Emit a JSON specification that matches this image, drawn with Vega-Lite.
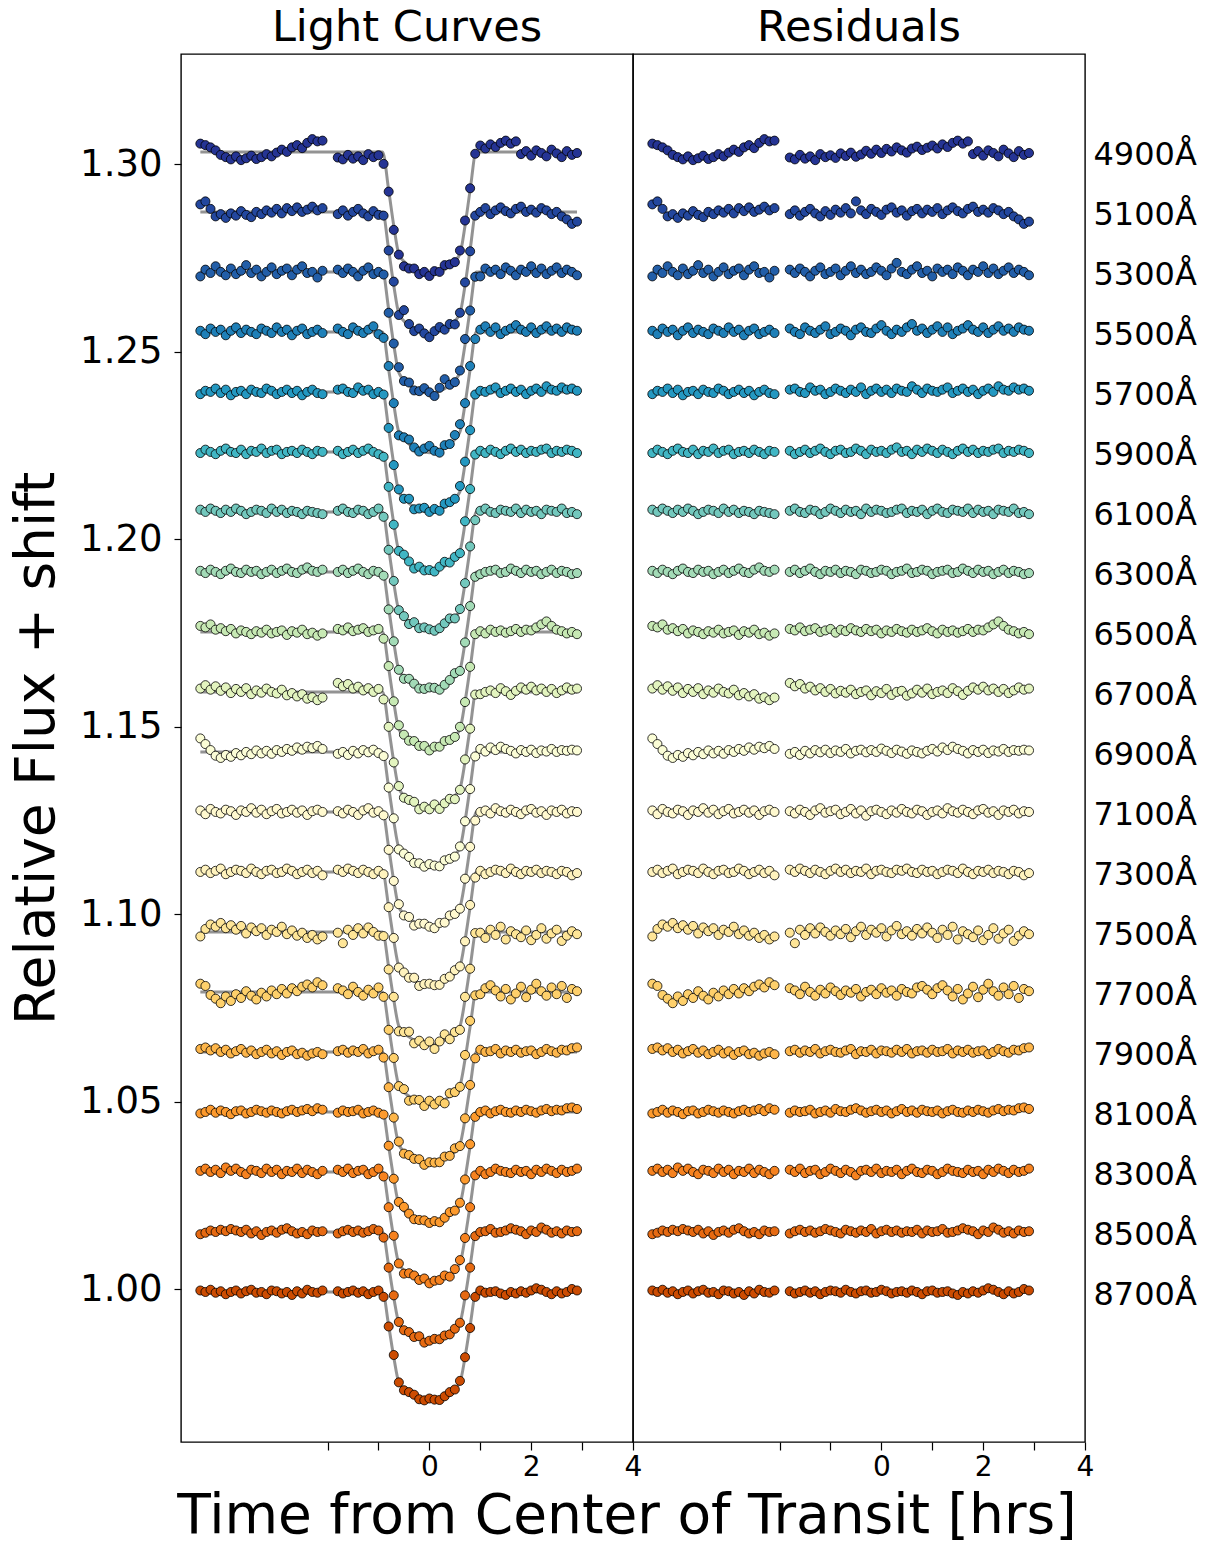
{
  "$schema": "https://vega.github.io/schema/vega-lite/v6.json",
  "background": "white",
  "padding": {"left": 8, "right": 4, "top": 6, "bottom": 8},
  "spacing": 0,
  "bounds": "flush",
  "title": {"text": "Time from Center of Transit [hrs]", "orient": "bottom", "anchor": "middle", "fontSize": 55, "offset": 8, "dx": 24},
  "data": {
    "format": {"type": "csv", "parse": {"w": "string", "t": "number", "f": "number", "r": "number"}},
    "values": "w,t,f,r\n4900,-4.5,1.3055,1.3055\n4900,-4.4,1.3051,1.3051\n4900,-4.3,1.3045,1.3045\n4900,-4.2,1.3037,1.3037\n4900,-4.1,1.3025,1.3025\n4900,-4,1.3019,1.3019\n4900,-3.9,1.3013,1.3013\n4900,-3.8,1.3021,1.3021\n4900,-3.7,1.3011,1.3011\n4900,-3.6,1.3016,1.3016\n4900,-3.5,1.3023,1.3023\n4900,-3.4,1.3014,1.3014\n4900,-3.3,1.3019,1.3019\n4900,-3.2,1.3027,1.3027\n4900,-3.1,1.3021,1.3021\n4900,-3,1.3031,1.3031\n4900,-2.9,1.3039,1.3039\n4900,-2.8,1.3033,1.3033\n4900,-2.7,1.3045,1.3045\n4900,-2.6,1.3051,1.3051\n4900,-2.5,1.3043,1.3043\n4900,-2.4,1.3057,1.3057\n4900,-2.3,1.3067,1.3067\n4900,-2.2,1.3061,1.3061\n4900,-2.1,1.3063,1.3063\n4900,-1.8,1.3018,1.3018\n4900,-1.7,1.3013,1.3013\n4900,-1.6,1.3025,1.3025\n4900,-1.5,1.3015,1.3015\n4900,-1.4,1.3021,1.3021\n4900,-1.3,1.3011,1.3011\n4900,-1.2,1.3027,1.3027\n4900,-1.1,1.3019,1.3019\n4900,-1,1.3024,1.3024\n4900,-0.9,1.3001,1.3017\n4900,-0.8,1.2927,1.3029\n4900,-0.7,1.2825,1.3022\n4900,-0.6,1.2759,1.3031\n4900,-0.5,1.2728,1.3020\n4900,-0.4,1.2722,1.3026\n4900,-0.3,1.2722,1.3036\n4900,-0.2,1.2707,1.3028\n4900,-0.1,1.2713,1.3039\n4900,0,1.2702,1.3030\n4900,0.1,1.2715,1.3041\n4900,0.2,1.2713,1.3034\n4900,0.3,1.2731,1.3045\n4900,0.4,1.2733,1.3037\n4900,0.5,1.2739,1.3031\n4900,0.6,1.2770,1.3042\n4900,0.7,1.2850,1.3047\n4900,0.8,1.2936,1.3038\n4900,0.9,1.3028,1.3044\n4900,1,1.3050,1.3050\n4900,1.1,1.3042,1.3042\n4900,1.2,1.3053,1.3053\n4900,1.3,1.3046,1.3046\n4900,1.4,1.3057,1.3057\n4900,1.5,1.3063,1.3063\n4900,1.6,1.3055,1.3055\n4900,1.7,1.3061,1.3061\n4900,1.8,1.3027,1.3027\n4900,1.9,1.3035,1.3035\n4900,2,1.3023,1.3023\n4900,2.1,1.3037,1.3037\n4900,2.2,1.3030,1.3030\n4900,2.3,1.3021,1.3021\n4900,2.4,1.3039,1.3039\n4900,2.5,1.3029,1.3029\n4900,2.6,1.3019,1.3019\n4900,2.7,1.3035,1.3035\n4900,2.8,1.3025,1.3025\n4900,2.9,1.3030,1.3030\n5100,-4.5,1.2893,1.2893\n5100,-4.4,1.2901,1.2901\n5100,-4.3,1.2881,1.2881\n5100,-4.2,1.2861,1.2861\n5100,-4.1,1.2867,1.2867\n5100,-4,1.2857,1.2857\n5100,-3.9,1.2869,1.2869\n5100,-3.8,1.2863,1.2863\n5100,-3.7,1.2875,1.2875\n5100,-3.6,1.2865,1.2865\n5100,-3.5,1.2859,1.2859\n5100,-3.4,1.2873,1.2873\n5100,-3.3,1.2867,1.2867\n5100,-3.2,1.2877,1.2877\n5100,-3.1,1.2871,1.2871\n5100,-3,1.2881,1.2881\n5100,-2.9,1.2869,1.2869\n5100,-2.8,1.2883,1.2883\n5100,-2.7,1.2875,1.2875\n5100,-2.6,1.2885,1.2885\n5100,-2.5,1.2873,1.2873\n5100,-2.4,1.2879,1.2879\n5100,-2.3,1.2887,1.2887\n5100,-2.2,1.2877,1.2877\n5100,-2.1,1.2883,1.2883\n5100,-1.8,1.2867,1.2867\n5100,-1.7,1.2877,1.2877\n5100,-1.6,1.2863,1.2863\n5100,-1.5,1.2873,1.2873\n5100,-1.4,1.2881,1.2881\n5100,-1.3,1.2869,1.2869\n5100,-1.2,1.2861,1.2861\n5100,-1.1,1.2875,1.2875\n5100,-1,1.2865,1.2865\n5100,-0.9,1.2863,1.2879\n5100,-0.8,1.2770,1.2871\n5100,-0.7,1.2687,1.2883\n5100,-0.6,1.2598,1.2869\n5100,-0.5,1.2611,1.2901\n5100,-0.4,1.2574,1.2877\n5100,-0.3,1.2555,1.2867\n5100,-0.2,1.2562,1.2881\n5100,-0.1,1.2549,1.2873\n5100,0,1.2539,1.2865\n5100,0.1,1.2555,1.2879\n5100,0.2,1.2566,1.2885\n5100,0.3,1.2559,1.2871\n5100,0.4,1.2574,1.2877\n5100,0.5,1.2573,1.2863\n5100,0.6,1.2604,1.2875\n5100,0.7,1.2685,1.2881\n5100,0.8,1.2768,1.2869\n5100,0.9,1.2863,1.2879\n5100,1,1.2873,1.2873\n5100,1.1,1.2883,1.2883\n5100,1.2,1.2867,1.2867\n5100,1.3,1.2877,1.2877\n5100,1.4,1.2885,1.2885\n5100,1.5,1.2875,1.2875\n5100,1.6,1.2869,1.2869\n5100,1.7,1.2881,1.2881\n5100,1.8,1.2887,1.2887\n5100,1.9,1.2873,1.2873\n5100,2,1.2879,1.2879\n5100,2.1,1.2871,1.2871\n5100,2.2,1.2883,1.2883\n5100,2.3,1.2877,1.2877\n5100,2.4,1.2867,1.2867\n5100,2.5,1.2873,1.2873\n5100,2.6,1.2861,1.2861\n5100,2.7,1.2853,1.2853\n5100,2.8,1.2841,1.2841\n5100,2.9,1.2847,1.2847\n5300,-4.5,1.2701,1.2701\n5300,-4.4,1.2719,1.2719\n5300,-4.3,1.2710,1.2710\n5300,-4.2,1.2728,1.2728\n5300,-4.1,1.2713,1.2713\n5300,-4,1.2704,1.2704\n5300,-3.9,1.2722,1.2722\n5300,-3.8,1.2707,1.2707\n5300,-3.7,1.2716,1.2716\n5300,-3.6,1.2731,1.2731\n5300,-3.5,1.2710,1.2710\n5300,-3.4,1.2719,1.2719\n5300,-3.3,1.2701,1.2701\n5300,-3.2,1.2713,1.2713\n5300,-3.1,1.2725,1.2725\n5300,-3,1.2707,1.2707\n5300,-2.9,1.2716,1.2716\n5300,-2.8,1.2722,1.2722\n5300,-2.7,1.2704,1.2704\n5300,-2.6,1.2719,1.2719\n5300,-2.5,1.2728,1.2728\n5300,-2.4,1.2710,1.2710\n5300,-2.3,1.2713,1.2713\n5300,-2.2,1.2698,1.2698\n5300,-2.1,1.2716,1.2716\n5300,-1.8,1.2719,1.2719\n5300,-1.7,1.2710,1.2710\n5300,-1.6,1.2722,1.2722\n5300,-1.5,1.2713,1.2713\n5300,-1.4,1.2701,1.2701\n5300,-1.3,1.2716,1.2716\n5300,-1.2,1.2725,1.2725\n5300,-1.1,1.2707,1.2707\n5300,-1,1.2713,1.2713\n5300,-0.9,1.2706,1.2722\n5300,-0.8,1.2604,1.2704\n5300,-0.7,1.2522,1.2716\n5300,-0.6,1.2459,1.2728\n5300,-0.5,1.2422,1.2710\n5300,-0.4,1.2418,1.2719\n5300,-0.3,1.2397,1.2707\n5300,-0.2,1.2395,1.2713\n5300,-0.1,1.2403,1.2725\n5300,0,1.2392,1.2716\n5300,0.1,1.2382,1.2704\n5300,0.2,1.2404,1.2722\n5300,0.3,1.2427,1.2737\n5300,0.4,1.2412,1.2713\n5300,0.5,1.2419,1.2707\n5300,0.6,1.2450,1.2719\n5300,0.7,1.2534,1.2728\n5300,0.8,1.2610,1.2710\n5300,0.9,1.2700,1.2716\n5300,1,1.2701,1.2701\n5300,1.1,1.2722,1.2722\n5300,1.2,1.2713,1.2713\n5300,1.3,1.2719,1.2719\n5300,1.4,1.2707,1.2707\n5300,1.5,1.2725,1.2725\n5300,1.6,1.2716,1.2716\n5300,1.7,1.2704,1.2704\n5300,1.8,1.2719,1.2719\n5300,1.9,1.2713,1.2713\n5300,2,1.2728,1.2728\n5300,2.1,1.2710,1.2710\n5300,2.2,1.2722,1.2722\n5300,2.3,1.2707,1.2707\n5300,2.4,1.2716,1.2716\n5300,2.5,1.2725,1.2725\n5300,2.6,1.2710,1.2710\n5300,2.7,1.2719,1.2719\n5300,2.8,1.2713,1.2713\n5300,2.9,1.2704,1.2704\n5500,-4.5,1.2556,1.2556\n5500,-4.4,1.2547,1.2547\n5500,-4.3,1.2562,1.2562\n5500,-4.2,1.2553,1.2553\n5500,-4.1,1.2559,1.2559\n5500,-4,1.2544,1.2544\n5500,-3.9,1.2556,1.2556\n5500,-3.8,1.2565,1.2565\n5500,-3.7,1.2550,1.2550\n5500,-3.6,1.2559,1.2559\n5500,-3.5,1.2553,1.2553\n5500,-3.4,1.2547,1.2547\n5500,-3.3,1.2562,1.2562\n5500,-3.2,1.2556,1.2556\n5500,-3.1,1.2550,1.2550\n5500,-3,1.2565,1.2565\n5500,-2.9,1.2553,1.2553\n5500,-2.8,1.2559,1.2559\n5500,-2.7,1.2544,1.2544\n5500,-2.6,1.2556,1.2556\n5500,-2.5,1.2562,1.2562\n5500,-2.4,1.2547,1.2547\n5500,-2.3,1.2553,1.2553\n5500,-2.2,1.2559,1.2559\n5500,-2.1,1.2550,1.2550\n5500,-1.8,1.2562,1.2562\n5500,-1.7,1.2553,1.2553\n5500,-1.6,1.2547,1.2547\n5500,-1.5,1.2565,1.2565\n5500,-1.4,1.2556,1.2556\n5500,-1.3,1.2550,1.2550\n5500,-1.2,1.2559,1.2559\n5500,-1.1,1.2568,1.2568\n5500,-1,1.2547,1.2547\n5500,-0.9,1.2537,1.2553\n5500,-0.8,1.2462,1.2562\n5500,-0.7,1.2363,1.2556\n5500,-0.6,1.2277,1.2544\n5500,-0.5,1.2272,1.2559\n5500,-0.4,1.2266,1.2565\n5500,-0.3,1.2245,1.2553\n5500,-0.2,1.2234,1.2550\n5500,-0.1,1.2242,1.2562\n5500,0,1.2249,1.2571\n5500,0.1,1.2236,1.2556\n5500,0.2,1.2231,1.2547\n5500,0.3,1.2251,1.2559\n5500,0.4,1.2254,1.2553\n5500,0.5,1.2278,1.2565\n5500,0.6,1.2307,1.2574\n5500,0.7,1.2363,1.2556\n5500,0.8,1.2462,1.2562\n5500,0.9,1.2534,1.2550\n5500,1,1.2559,1.2559\n5500,1.1,1.2568,1.2568\n5500,1.2,1.2553,1.2553\n5500,1.3,1.2565,1.2565\n5500,1.4,1.2547,1.2547\n5500,1.5,1.2556,1.2556\n5500,1.6,1.2562,1.2562\n5500,1.7,1.2571,1.2571\n5500,1.8,1.2559,1.2559\n5500,1.9,1.2553,1.2553\n5500,2,1.2565,1.2565\n5500,2.1,1.2550,1.2550\n5500,2.2,1.2559,1.2559\n5500,2.3,1.2568,1.2568\n5500,2.4,1.2556,1.2556\n5500,2.5,1.2562,1.2562\n5500,2.6,1.2553,1.2553\n5500,2.7,1.2565,1.2565\n5500,2.8,1.2559,1.2559\n5500,2.9,1.2556,1.2556\n5700,-4.5,1.2387,1.2387\n5700,-4.4,1.2396,1.2396\n5700,-4.3,1.2393,1.2393\n5700,-4.2,1.2402,1.2402\n5700,-4.1,1.2390,1.2390\n5700,-4,1.2399,1.2399\n5700,-3.9,1.2384,1.2384\n5700,-3.8,1.2393,1.2393\n5700,-3.7,1.2396,1.2396\n5700,-3.6,1.2387,1.2387\n5700,-3.5,1.2399,1.2399\n5700,-3.4,1.2393,1.2393\n5700,-3.3,1.2390,1.2390\n5700,-3.2,1.2402,1.2402\n5700,-3.1,1.2396,1.2396\n5700,-3,1.2387,1.2387\n5700,-2.9,1.2393,1.2393\n5700,-2.8,1.2399,1.2399\n5700,-2.7,1.2390,1.2390\n5700,-2.6,1.2396,1.2396\n5700,-2.5,1.2384,1.2384\n5700,-2.4,1.2393,1.2393\n5700,-2.3,1.2399,1.2399\n5700,-2.2,1.2390,1.2390\n5700,-2.1,1.2387,1.2387\n5700,-1.8,1.2399,1.2399\n5700,-1.7,1.2402,1.2402\n5700,-1.6,1.2393,1.2393\n5700,-1.5,1.2390,1.2390\n5700,-1.4,1.2405,1.2405\n5700,-1.3,1.2396,1.2396\n5700,-1.2,1.2399,1.2399\n5700,-1.1,1.2387,1.2387\n5700,-1,1.2393,1.2393\n5700,-0.9,1.2386,1.2402\n5700,-0.8,1.2297,1.2396\n5700,-0.7,1.2198,1.2390\n5700,-0.6,1.2133,1.2399\n5700,-0.5,1.2108,1.2393\n5700,-0.4,1.2108,1.2405\n5700,-0.3,1.2080,1.2387\n5700,-0.2,1.2082,1.2396\n5700,-0.1,1.2084,1.2402\n5700,0,1.2073,1.2393\n5700,0.1,1.2081,1.2399\n5700,0.2,1.2076,1.2390\n5700,0.3,1.2095,1.2402\n5700,0.4,1.2099,1.2396\n5700,0.5,1.2108,1.2393\n5700,0.6,1.2142,1.2408\n5700,0.7,1.2207,1.2399\n5700,0.8,1.2291,1.2390\n5700,0.9,1.2386,1.2402\n5700,1,1.2396,1.2396\n5700,1.1,1.2393,1.2393\n5700,1.2,1.2399,1.2399\n5700,1.3,1.2405,1.2405\n5700,1.4,1.2390,1.2390\n5700,1.5,1.2396,1.2396\n5700,1.6,1.2402,1.2402\n5700,1.7,1.2393,1.2393\n5700,1.8,1.2399,1.2399\n5700,1.9,1.2387,1.2387\n5700,2,1.2396,1.2396\n5700,2.1,1.2402,1.2402\n5700,2.2,1.2393,1.2393\n5700,2.3,1.2408,1.2408\n5700,2.4,1.2399,1.2399\n5700,2.5,1.2396,1.2396\n5700,2.6,1.2405,1.2405\n5700,2.7,1.2399,1.2399\n5700,2.8,1.2402,1.2402\n5700,2.9,1.2396,1.2396\n5900,-4.5,1.2230,1.2230\n5900,-4.4,1.2239,1.2239\n5900,-4.3,1.2233,1.2233\n5900,-4.2,1.2227,1.2227\n5900,-4.1,1.2236,1.2236\n5900,-4,1.2242,1.2242\n5900,-3.9,1.2233,1.2233\n5900,-3.8,1.2230,1.2230\n5900,-3.7,1.2239,1.2239\n5900,-3.6,1.2227,1.2227\n5900,-3.5,1.2236,1.2236\n5900,-3.4,1.2233,1.2233\n5900,-3.3,1.2242,1.2242\n5900,-3.2,1.2230,1.2230\n5900,-3.1,1.2236,1.2236\n5900,-3,1.2239,1.2239\n5900,-2.9,1.2227,1.2227\n5900,-2.8,1.2233,1.2233\n5900,-2.7,1.2236,1.2236\n5900,-2.6,1.2230,1.2230\n5900,-2.5,1.2239,1.2239\n5900,-2.4,1.2233,1.2233\n5900,-2.3,1.2227,1.2227\n5900,-2.2,1.2236,1.2236\n5900,-2.1,1.2233,1.2233\n5900,-1.8,1.2236,1.2236\n5900,-1.7,1.2227,1.2227\n5900,-1.6,1.2233,1.2233\n5900,-1.5,1.2239,1.2239\n5900,-1.4,1.2230,1.2230\n5900,-1.3,1.2236,1.2236\n5900,-1.2,1.2242,1.2242\n5900,-1.1,1.2233,1.2233\n5900,-1,1.2227,1.2227\n5900,-0.9,1.2220,1.2236\n5900,-0.8,1.2140,1.2239\n5900,-0.7,1.2039,1.2230\n5900,-0.6,1.1969,1.2233\n5900,-0.5,1.1959,1.2242\n5900,-0.4,1.1941,1.2236\n5900,-0.3,1.1922,1.2227\n5900,-0.2,1.1927,1.2239\n5900,-0.1,1.1917,1.2233\n5900,0,1.1918,1.2236\n5900,0.1,1.1914,1.2230\n5900,0.2,1.1927,1.2239\n5900,0.3,1.1940,1.2245\n5900,0.4,1.1938,1.2233\n5900,0.5,1.1953,1.2236\n5900,0.6,1.1963,1.2227\n5900,0.7,1.2048,1.2239\n5900,0.8,1.2134,1.2233\n5900,0.9,1.2226,1.2242\n5900,1,1.2236,1.2236\n5900,1.1,1.2230,1.2230\n5900,1.2,1.2239,1.2239\n5900,1.3,1.2233,1.2233\n5900,1.4,1.2227,1.2227\n5900,1.5,1.2236,1.2236\n5900,1.6,1.2242,1.2242\n5900,1.7,1.2233,1.2233\n5900,1.8,1.2239,1.2239\n5900,1.9,1.2230,1.2230\n5900,2,1.2236,1.2236\n5900,2.1,1.2233,1.2233\n5900,2.2,1.2239,1.2239\n5900,2.3,1.2242,1.2242\n5900,2.4,1.2230,1.2230\n5900,2.5,1.2236,1.2236\n5900,2.6,1.2233,1.2233\n5900,2.7,1.2239,1.2239\n5900,2.8,1.2236,1.2236\n5900,2.9,1.2230,1.2230\n6100,-4.5,1.2079,1.2079\n6100,-4.4,1.2073,1.2073\n6100,-4.3,1.2082,1.2082\n6100,-4.2,1.2076,1.2076\n6100,-4.1,1.2070,1.2070\n6100,-4,1.2079,1.2079\n6100,-3.9,1.2073,1.2073\n6100,-3.8,1.2082,1.2082\n6100,-3.7,1.2076,1.2076\n6100,-3.6,1.2067,1.2067\n6100,-3.5,1.2073,1.2073\n6100,-3.4,1.2079,1.2079\n6100,-3.3,1.2076,1.2076\n6100,-3.2,1.2070,1.2070\n6100,-3.1,1.2082,1.2082\n6100,-3,1.2073,1.2073\n6100,-2.9,1.2079,1.2079\n6100,-2.8,1.2070,1.2070\n6100,-2.7,1.2076,1.2076\n6100,-2.6,1.2073,1.2073\n6100,-2.5,1.2067,1.2067\n6100,-2.4,1.2076,1.2076\n6100,-2.3,1.2073,1.2073\n6100,-2.2,1.2070,1.2070\n6100,-2.1,1.2067,1.2067\n6100,-1.8,1.2076,1.2076\n6100,-1.7,1.2082,1.2082\n6100,-1.6,1.2073,1.2073\n6100,-1.5,1.2070,1.2070\n6100,-1.4,1.2079,1.2079\n6100,-1.3,1.2076,1.2076\n6100,-1.2,1.2067,1.2067\n6100,-1.1,1.2073,1.2073\n6100,-1,1.2082,1.2082\n6100,-0.9,1.2060,1.2076\n6100,-0.8,1.1972,1.2070\n6100,-0.7,1.1889,1.2079\n6100,-0.6,1.1811,1.2073\n6100,-0.5,1.1795,1.2076\n6100,-0.4,1.1774,1.2067\n6100,-0.3,1.1779,1.2082\n6100,-0.2,1.1763,1.2073\n6100,-0.1,1.1765,1.2079\n6100,0,1.1760,1.2076\n6100,0.1,1.1756,1.2070\n6100,0.2,1.1763,1.2073\n6100,0.3,1.1776,1.2079\n6100,0.4,1.1789,1.2082\n6100,0.5,1.1789,1.2070\n6100,0.6,1.1814,1.2076\n6100,0.7,1.1883,1.2073\n6100,0.8,1.1981,1.2079\n6100,0.9,1.2051,1.2067\n6100,1,1.2076,1.2076\n6100,1.1,1.2082,1.2082\n6100,1.2,1.2073,1.2073\n6100,1.3,1.2070,1.2070\n6100,1.4,1.2079,1.2079\n6100,1.5,1.2076,1.2076\n6100,1.6,1.2073,1.2073\n6100,1.7,1.2082,1.2082\n6100,1.8,1.2070,1.2070\n6100,1.9,1.2079,1.2079\n6100,2,1.2073,1.2073\n6100,2.1,1.2076,1.2076\n6100,2.2,1.2067,1.2067\n6100,2.3,1.2079,1.2079\n6100,2.4,1.2076,1.2076\n6100,2.5,1.2073,1.2073\n6100,2.6,1.2082,1.2082\n6100,2.7,1.2070,1.2070\n6100,2.8,1.2073,1.2073\n6100,2.9,1.2067,1.2067\n6300,-4.5,1.1916,1.1916\n6300,-4.4,1.1910,1.1910\n6300,-4.3,1.1919,1.1919\n6300,-4.2,1.1913,1.1913\n6300,-4.1,1.1907,1.1907\n6300,-4,1.1916,1.1916\n6300,-3.9,1.1922,1.1922\n6300,-3.8,1.1913,1.1913\n6300,-3.7,1.1910,1.1910\n6300,-3.6,1.1919,1.1919\n6300,-3.5,1.1913,1.1913\n6300,-3.4,1.1916,1.1916\n6300,-3.3,1.1907,1.1907\n6300,-3.2,1.1913,1.1913\n6300,-3.1,1.1919,1.1919\n6300,-3,1.1910,1.1910\n6300,-2.9,1.1916,1.1916\n6300,-2.8,1.1922,1.1922\n6300,-2.7,1.1913,1.1913\n6300,-2.6,1.1910,1.1910\n6300,-2.5,1.1919,1.1919\n6300,-2.4,1.1925,1.1925\n6300,-2.3,1.1916,1.1916\n6300,-2.2,1.1913,1.1913\n6300,-2.1,1.1919,1.1919\n6300,-1.8,1.1913,1.1913\n6300,-1.7,1.1919,1.1919\n6300,-1.6,1.1910,1.1910\n6300,-1.5,1.1916,1.1916\n6300,-1.4,1.1922,1.1922\n6300,-1.3,1.1913,1.1913\n6300,-1.2,1.1907,1.1907\n6300,-1.1,1.1916,1.1916\n6300,-1,1.1913,1.1913\n6300,-0.9,1.1903,1.1919\n6300,-0.8,1.1813,1.1910\n6300,-0.7,1.1728,1.1916\n6300,-0.6,1.1652,1.1913\n6300,-0.5,1.1628,1.1907\n6300,-0.4,1.1628,1.1919\n6300,-0.3,1.1615,1.1916\n6300,-0.2,1.1602,1.1910\n6300,-0.1,1.1601,1.1913\n6300,0,1.1605,1.1919\n6300,0.1,1.1604,1.1916\n6300,0.2,1.1599,1.1907\n6300,0.3,1.1612,1.1913\n6300,0.4,1.1625,1.1916\n6300,0.5,1.1643,1.1922\n6300,0.6,1.1649,1.1910\n6300,0.7,1.1725,1.1913\n6300,0.8,1.1822,1.1919\n6300,0.9,1.1900,1.1916\n6300,1,1.1907,1.1907\n6300,1.1,1.1913,1.1913\n6300,1.2,1.1916,1.1916\n6300,1.3,1.1919,1.1919\n6300,1.4,1.1910,1.1910\n6300,1.5,1.1913,1.1913\n6300,1.6,1.1922,1.1922\n6300,1.7,1.1916,1.1916\n6300,1.8,1.1910,1.1910\n6300,1.9,1.1919,1.1919\n6300,2,1.1913,1.1913\n6300,2.1,1.1916,1.1916\n6300,2.2,1.1907,1.1907\n6300,2.3,1.1913,1.1913\n6300,2.4,1.1919,1.1919\n6300,2.5,1.1910,1.1910\n6300,2.6,1.1916,1.1916\n6300,2.7,1.1913,1.1913\n6300,2.8,1.1907,1.1907\n6300,2.9,1.1910,1.1910\n6500,-4.5,1.1769,1.1769\n6500,-4.4,1.1765,1.1765\n6500,-4.3,1.1773,1.1773\n6500,-4.2,1.1759,1.1759\n6500,-4.1,1.1763,1.1763\n6500,-4,1.1755,1.1755\n6500,-3.9,1.1761,1.1761\n6500,-3.8,1.1749,1.1749\n6500,-3.7,1.1757,1.1757\n6500,-3.6,1.1753,1.1753\n6500,-3.5,1.1747,1.1747\n6500,-3.4,1.1755,1.1755\n6500,-3.3,1.1751,1.1751\n6500,-3.2,1.1759,1.1759\n6500,-3.1,1.1749,1.1749\n6500,-3,1.1753,1.1753\n6500,-2.9,1.1757,1.1757\n6500,-2.8,1.1745,1.1745\n6500,-2.7,1.1755,1.1755\n6500,-2.6,1.1751,1.1751\n6500,-2.5,1.1759,1.1759\n6500,-2.4,1.1747,1.1747\n6500,-2.3,1.1751,1.1751\n6500,-2.2,1.1743,1.1743\n6500,-2.1,1.1749,1.1749\n6500,-1.8,1.1761,1.1761\n6500,-1.7,1.1757,1.1757\n6500,-1.6,1.1765,1.1765\n6500,-1.5,1.1755,1.1755\n6500,-1.4,1.1759,1.1759\n6500,-1.3,1.1763,1.1763\n6500,-1.2,1.1753,1.1753\n6500,-1.1,1.1757,1.1757\n6500,-1,1.1761,1.1761\n6500,-0.9,1.1735,1.1751\n6500,-0.8,1.1662,1.1759\n6500,-0.7,1.1568,1.1755\n6500,-0.6,1.1504,1.1763\n6500,-0.5,1.1479,1.1757\n6500,-0.4,1.1463,1.1753\n6500,-0.3,1.1462,1.1761\n6500,-0.2,1.1449,1.1755\n6500,-0.1,1.1449,1.1759\n6500,0,1.1437,1.1749\n6500,0.1,1.1447,1.1757\n6500,0.2,1.1447,1.1753\n6500,0.3,1.1462,1.1761\n6500,0.4,1.1465,1.1755\n6500,0.5,1.1473,1.1751\n6500,0.6,1.1500,1.1759\n6500,0.7,1.1566,1.1753\n6500,0.8,1.1660,1.1757\n6500,0.9,1.1747,1.1763\n6500,1,1.1755,1.1755\n6500,1.1,1.1749,1.1749\n6500,1.2,1.1759,1.1759\n6500,1.3,1.1753,1.1753\n6500,1.4,1.1757,1.1757\n6500,1.5,1.1751,1.1751\n6500,1.6,1.1755,1.1755\n6500,1.7,1.1761,1.1761\n6500,1.8,1.1753,1.1753\n6500,1.9,1.1759,1.1759\n6500,2,1.1757,1.1757\n6500,2.1,1.1765,1.1765\n6500,2.2,1.1773,1.1773\n6500,2.3,1.1781,1.1781\n6500,2.4,1.1769,1.1769\n6500,2.5,1.1759,1.1759\n6500,2.6,1.1755,1.1755\n6500,2.7,1.1749,1.1749\n6500,2.8,1.1753,1.1753\n6500,2.9,1.1747,1.1747\n6700,-4.5,1.1602,1.1602\n6700,-4.4,1.1611,1.1611\n6700,-4.3,1.1599,1.1599\n6700,-4.2,1.1608,1.1608\n6700,-4.1,1.1596,1.1596\n6700,-4,1.1605,1.1605\n6700,-3.9,1.1590,1.1590\n6700,-3.8,1.1601,1.1601\n6700,-3.7,1.1593,1.1593\n6700,-3.6,1.1603,1.1603\n6700,-3.5,1.1587,1.1587\n6700,-3.4,1.1597,1.1597\n6700,-3.3,1.1591,1.1591\n6700,-3.2,1.1602,1.1602\n6700,-3.1,1.1593,1.1593\n6700,-3,1.1589,1.1589\n6700,-2.9,1.1599,1.1599\n6700,-2.8,1.1584,1.1584\n6700,-2.7,1.1590,1.1590\n6700,-2.6,1.1581,1.1581\n6700,-2.5,1.1587,1.1587\n6700,-2.4,1.1575,1.1575\n6700,-2.3,1.1579,1.1579\n6700,-2.2,1.1571,1.1571\n6700,-2.1,1.1578,1.1578\n6700,-1.8,1.1617,1.1617\n6700,-1.7,1.1608,1.1608\n6700,-1.6,1.1614,1.1614\n6700,-1.5,1.1602,1.1602\n6700,-1.4,1.1607,1.1607\n6700,-1.3,1.1597,1.1597\n6700,-1.2,1.1603,1.1603\n6700,-1.1,1.1593,1.1593\n6700,-1,1.1601,1.1601\n6700,-0.9,1.1573,1.1589\n6700,-0.8,1.1500,1.1596\n6700,-0.7,1.1405,1.1591\n6700,-0.6,1.1342,1.1599\n6700,-0.5,1.1311,1.1587\n6700,-0.4,1.1305,1.1593\n6700,-0.3,1.1300,1.1597\n6700,-0.2,1.1280,1.1584\n6700,-0.1,1.1287,1.1595\n6700,0,1.1280,1.1590\n6700,0.1,1.1293,1.1601\n6700,0.2,1.1281,1.1585\n6700,0.3,1.1296,1.1593\n6700,0.4,1.1308,1.1596\n6700,0.5,1.1307,1.1583\n6700,0.6,1.1332,1.1589\n6700,0.7,1.1413,1.1599\n6700,0.8,1.1495,1.1591\n6700,0.9,1.1586,1.1602\n6700,1,1.1587,1.1587\n6700,1.1,1.1593,1.1593\n6700,1.2,1.1597,1.1597\n6700,1.3,1.1590,1.1590\n6700,1.4,1.1603,1.1603\n6700,1.5,1.1595,1.1595\n6700,1.6,1.1585,1.1585\n6700,1.7,1.1596,1.1596\n6700,1.8,1.1605,1.1605\n6700,1.9,1.1599,1.1599\n6700,2,1.1607,1.1607\n6700,2.1,1.1597,1.1597\n6700,2.2,1.1602,1.1602\n6700,2.3,1.1593,1.1593\n6700,2.4,1.1601,1.1601\n6700,2.5,1.1590,1.1590\n6700,2.6,1.1597,1.1597\n6700,2.7,1.1605,1.1605\n6700,2.8,1.1599,1.1599\n6700,2.9,1.1602,1.1602\n6900,-4.5,1.1469,1.1469\n6900,-4.4,1.1454,1.1454\n6900,-4.3,1.1438,1.1438\n6900,-4.2,1.1423,1.1423\n6900,-4.1,1.1417,1.1417\n6900,-4,1.1425,1.1425\n6900,-3.9,1.1420,1.1420\n6900,-3.8,1.1430,1.1430\n6900,-3.7,1.1424,1.1424\n6900,-3.6,1.1433,1.1433\n6900,-3.5,1.1427,1.1427\n6900,-3.4,1.1437,1.1437\n6900,-3.3,1.1429,1.1429\n6900,-3.2,1.1436,1.1436\n6900,-3.1,1.1428,1.1428\n6900,-3,1.1438,1.1438\n6900,-2.9,1.1433,1.1433\n6900,-2.8,1.1441,1.1441\n6900,-2.7,1.1436,1.1436\n6900,-2.6,1.1445,1.1445\n6900,-2.5,1.1439,1.1439\n6900,-2.4,1.1447,1.1447\n6900,-2.3,1.1443,1.1443\n6900,-2.2,1.1449,1.1449\n6900,-2.1,1.1441,1.1441\n6900,-1.8,1.1428,1.1428\n6900,-1.7,1.1433,1.1433\n6900,-1.6,1.1425,1.1425\n6900,-1.5,1.1436,1.1436\n6900,-1.4,1.1429,1.1429\n6900,-1.3,1.1438,1.1438\n6900,-1.2,1.1432,1.1432\n6900,-1.1,1.1439,1.1439\n6900,-1,1.1430,1.1430\n6900,-0.9,1.1422,1.1437\n6900,-0.8,1.1338,1.1433\n6900,-0.7,1.1256,1.1441\n6900,-0.6,1.1173,1.1429\n6900,-0.5,1.1162,1.1436\n6900,-0.4,1.1153,1.1439\n6900,-0.3,1.1137,1.1432\n6900,-0.2,1.1136,1.1438\n6900,-0.1,1.1127,1.1433\n6900,0,1.1134,1.1442\n6900,0.1,1.1130,1.1436\n6900,0.2,1.1128,1.1430\n6900,0.3,1.1144,1.1439\n6900,0.4,1.1148,1.1434\n6900,0.5,1.1154,1.1428\n6900,0.6,1.1181,1.1437\n6900,0.7,1.1248,1.1433\n6900,0.8,1.1334,1.1429\n6900,0.9,1.1421,1.1436\n6900,1,1.1441,1.1441\n6900,1.1,1.1434,1.1434\n6900,1.2,1.1445,1.1445\n6900,1.3,1.1438,1.1438\n6900,1.4,1.1447,1.1447\n6900,1.5,1.1441,1.1441\n6900,1.6,1.1436,1.1436\n6900,1.7,1.1429,1.1429\n6900,1.8,1.1438,1.1438\n6900,1.9,1.1433,1.1433\n6900,2,1.1439,1.1439\n6900,2.1,1.1430,1.1430\n6900,2.2,1.1437,1.1437\n6900,2.3,1.1434,1.1434\n6900,2.4,1.1441,1.1441\n6900,2.5,1.1433,1.1433\n6900,2.6,1.1438,1.1438\n6900,2.7,1.1436,1.1436\n6900,2.8,1.1439,1.1439\n6900,2.9,1.1437,1.1437\n7100,-4.5,1.1277,1.1277\n7100,-4.4,1.1267,1.1267\n7100,-4.3,1.1281,1.1281\n7100,-4.2,1.1273,1.1273\n7100,-4.1,1.1269,1.1269\n7100,-4,1.1279,1.1279\n7100,-3.9,1.1275,1.1275\n7100,-3.8,1.1265,1.1265\n7100,-3.7,1.1277,1.1277\n7100,-3.6,1.1273,1.1273\n7100,-3.5,1.1283,1.1283\n7100,-3.4,1.1271,1.1271\n7100,-3.3,1.1279,1.1279\n7100,-3.2,1.1267,1.1267\n7100,-3.1,1.1275,1.1275\n7100,-3,1.1281,1.1281\n7100,-2.9,1.1269,1.1269\n7100,-2.8,1.1273,1.1273\n7100,-2.7,1.1279,1.1279\n7100,-2.6,1.1271,1.1271\n7100,-2.5,1.1277,1.1277\n7100,-2.4,1.1265,1.1265\n7100,-2.3,1.1275,1.1275\n7100,-2.2,1.1279,1.1279\n7100,-2.1,1.1273,1.1273\n7100,-1.8,1.1275,1.1275\n7100,-1.7,1.1269,1.1269\n7100,-1.6,1.1279,1.1279\n7100,-1.5,1.1273,1.1273\n7100,-1.4,1.1265,1.1265\n7100,-1.3,1.1277,1.1277\n7100,-1.2,1.1283,1.1283\n7100,-1.1,1.1271,1.1271\n7100,-1,1.1275,1.1275\n7100,-0.9,1.1264,1.1279\n7100,-0.8,1.1172,1.1267\n7100,-0.7,1.1089,1.1273\n7100,-0.6,1.1027,1.1281\n7100,-0.5,1.0997,1.1269\n7100,-0.4,1.0993,1.1277\n7100,-0.3,1.0970,1.1263\n7100,-0.2,1.0975,1.1275\n7100,-0.1,1.0975,1.1279\n7100,0,1.0967,1.1273\n7100,0.1,1.0963,1.1267\n7100,0.2,1.0977,1.1277\n7100,0.3,1.0978,1.1271\n7100,0.4,1.0997,1.1281\n7100,0.5,1.1001,1.1273\n7100,0.6,1.1015,1.1269\n7100,0.7,1.1095,1.1279\n7100,0.8,1.1180,1.1275\n7100,0.9,1.1250,1.1265\n7100,1,1.1273,1.1273\n7100,1.1,1.1277,1.1277\n7100,1.2,1.1269,1.1269\n7100,1.3,1.1283,1.1283\n7100,1.4,1.1275,1.1275\n7100,1.5,1.1271,1.1271\n7100,1.6,1.1279,1.1279\n7100,1.7,1.1273,1.1273\n7100,1.8,1.1267,1.1267\n7100,1.9,1.1277,1.1277\n7100,2,1.1281,1.1281\n7100,2.1,1.1271,1.1271\n7100,2.2,1.1275,1.1275\n7100,2.3,1.1265,1.1265\n7100,2.4,1.1277,1.1277\n7100,2.5,1.1273,1.1273\n7100,2.6,1.1279,1.1279\n7100,2.7,1.1269,1.1269\n7100,2.8,1.1275,1.1275\n7100,2.9,1.1273,1.1273\n7300,-4.5,1.1113,1.1113\n7300,-4.4,1.1119,1.1119\n7300,-4.3,1.1110,1.1110\n7300,-4.2,1.1116,1.1116\n7300,-4.1,1.1122,1.1122\n7300,-4,1.1107,1.1107\n7300,-3.9,1.1113,1.1113\n7300,-3.8,1.1119,1.1119\n7300,-3.7,1.1116,1.1116\n7300,-3.6,1.1110,1.1110\n7300,-3.5,1.1122,1.1122\n7300,-3.4,1.1113,1.1113\n7300,-3.3,1.1107,1.1107\n7300,-3.2,1.1116,1.1116\n7300,-3.1,1.1119,1.1119\n7300,-3,1.1110,1.1110\n7300,-2.9,1.1113,1.1113\n7300,-2.8,1.1122,1.1122\n7300,-2.7,1.1116,1.1116\n7300,-2.6,1.1107,1.1107\n7300,-2.5,1.1113,1.1113\n7300,-2.4,1.1119,1.1119\n7300,-2.3,1.1110,1.1110\n7300,-2.2,1.1116,1.1116\n7300,-2.1,1.1104,1.1104\n7300,-1.8,1.1119,1.1119\n7300,-1.7,1.1113,1.1113\n7300,-1.6,1.1122,1.1122\n7300,-1.5,1.1116,1.1116\n7300,-1.4,1.1110,1.1110\n7300,-1.3,1.1119,1.1119\n7300,-1.2,1.1113,1.1113\n7300,-1.1,1.1107,1.1107\n7300,-1,1.1116,1.1116\n7300,-0.9,1.1107,1.1122\n7300,-0.8,1.1019,1.1113\n7300,-0.7,1.0937,1.1119\n7300,-0.6,1.0858,1.1110\n7300,-0.5,1.0845,1.1116\n7300,-0.4,1.0831,1.1113\n7300,-0.3,1.0831,1.1122\n7300,-0.2,1.0809,1.1107\n7300,-0.1,1.0814,1.1116\n7300,0,1.0815,1.1119\n7300,0.1,1.0811,1.1113\n7300,0.2,1.0812,1.1110\n7300,0.3,1.0828,1.1119\n7300,0.4,1.0834,1.1116\n7300,0.5,1.0851,1.1122\n7300,0.6,1.0861,1.1113\n7300,0.7,1.0928,1.1110\n7300,0.8,1.1025,1.1119\n7300,0.9,1.1098,1.1113\n7300,1,1.1116,1.1116\n7300,1.1,1.1107,1.1107\n7300,1.2,1.1113,1.1113\n7300,1.3,1.1119,1.1119\n7300,1.4,1.1116,1.1116\n7300,1.5,1.1110,1.1110\n7300,1.6,1.1122,1.1122\n7300,1.7,1.1113,1.1113\n7300,1.8,1.1107,1.1107\n7300,1.9,1.1116,1.1116\n7300,2,1.1113,1.1113\n7300,2.1,1.1119,1.1119\n7300,2.2,1.1110,1.1110\n7300,2.3,1.1116,1.1116\n7300,2.4,1.1113,1.1113\n7300,2.5,1.1107,1.1107\n7300,2.6,1.1116,1.1116\n7300,2.7,1.1113,1.1113\n7300,2.8,1.1104,1.1104\n7300,2.9,1.1110,1.1110\n7500,-4.5,1.0941,1.0941\n7500,-4.4,1.0961,1.0961\n7500,-4.3,1.0973,1.0973\n7500,-4.2,1.0967,1.0967\n7500,-4.1,1.0977,1.0977\n7500,-4,1.0963,1.0963\n7500,-3.9,1.0971,1.0971\n7500,-3.8,1.0959,1.0959\n7500,-3.7,1.0969,1.0969\n7500,-3.6,1.0949,1.0949\n7500,-3.5,1.0965,1.0965\n7500,-3.4,1.0955,1.0955\n7500,-3.3,1.0963,1.0963\n7500,-3.2,1.0945,1.0945\n7500,-3.1,1.0959,1.0959\n7500,-3,1.0953,1.0953\n7500,-2.9,1.0967,1.0967\n7500,-2.8,1.0947,1.0947\n7500,-2.7,1.0957,1.0957\n7500,-2.6,1.0943,1.0943\n7500,-2.5,1.0951,1.0951\n7500,-2.4,1.0937,1.0937\n7500,-2.3,1.0945,1.0945\n7500,-2.2,1.0933,1.0933\n7500,-2.1,1.0941,1.0941\n7500,-1.8,1.0951,1.0951\n7500,-1.7,1.0923,1.0923\n7500,-1.6,1.0959,1.0959\n7500,-1.5,1.0945,1.0945\n7500,-1.4,1.0963,1.0963\n7500,-1.3,1.0949,1.0949\n7500,-1.2,1.0965,1.0965\n7500,-1.1,1.0953,1.0953\n7500,-1,1.0943,1.0943\n7500,-0.9,1.0942,1.0957\n7500,-0.8,1.0853,1.0947\n7500,-0.7,1.0780,1.0961\n7500,-0.6,1.0688,1.0939\n7500,-0.5,1.0686,1.0955\n7500,-0.4,1.0687,1.0967\n7500,-0.3,1.0656,1.0945\n7500,-0.2,1.0663,1.0959\n7500,-0.1,1.0651,1.0951\n7500,0,1.0661,1.0963\n7500,0.1,1.0641,1.0941\n7500,0.2,1.0661,1.0957\n7500,0.3,1.0680,1.0969\n7500,0.4,1.0667,1.0947\n7500,0.5,1.0686,1.0955\n7500,0.6,1.0692,1.0943\n7500,0.7,1.0780,1.0961\n7500,0.8,1.0855,1.0949\n7500,0.9,1.0950,1.0965\n7500,1,1.0951,1.0951\n7500,1.1,1.0937,1.0937\n7500,1.2,1.0959,1.0959\n7500,1.3,1.0945,1.0945\n7500,1.4,1.0967,1.0967\n7500,1.5,1.0933,1.0933\n7500,1.6,1.0955,1.0955\n7500,1.7,1.0947,1.0947\n7500,1.8,1.0939,1.0939\n7500,1.9,1.0957,1.0957\n7500,2,1.0931,1.0931\n7500,2.1,1.0945,1.0945\n7500,2.2,1.0963,1.0963\n7500,2.3,1.0935,1.0935\n7500,2.4,1.0949,1.0949\n7500,2.5,1.0959,1.0959\n7500,2.6,1.0929,1.0929\n7500,2.7,1.0943,1.0943\n7500,2.8,1.0955,1.0955\n7500,2.9,1.0947,1.0947\n7700,-4.5,1.0815,1.0815\n7700,-4.4,1.0809,1.0809\n7700,-4.3,1.0785,1.0785\n7700,-4.2,1.0775,1.0775\n7700,-4.1,1.0763,1.0763\n7700,-4,1.0781,1.0781\n7700,-3.9,1.0769,1.0769\n7700,-3.8,1.0787,1.0787\n7700,-3.7,1.0777,1.0777\n7700,-3.6,1.0795,1.0795\n7700,-3.5,1.0783,1.0783\n7700,-3.4,1.0773,1.0773\n7700,-3.3,1.0791,1.0791\n7700,-3.2,1.0781,1.0781\n7700,-3.1,1.0797,1.0797\n7700,-3,1.0787,1.0787\n7700,-2.9,1.0801,1.0801\n7700,-2.8,1.0789,1.0789\n7700,-2.7,1.0803,1.0803\n7700,-2.6,1.0795,1.0795\n7700,-2.5,1.0807,1.0807\n7700,-2.4,1.0813,1.0813\n7700,-2.3,1.0805,1.0805\n7700,-2.2,1.0819,1.0819\n7700,-2.1,1.0811,1.0811\n7700,-1.8,1.0803,1.0803\n7700,-1.7,1.0797,1.0797\n7700,-1.6,1.0787,1.0787\n7700,-1.5,1.0807,1.0807\n7700,-1.4,1.0793,1.0793\n7700,-1.3,1.0783,1.0783\n7700,-1.2,1.0799,1.0799\n7700,-1.1,1.0789,1.0789\n7700,-1,1.0805,1.0805\n7700,-0.9,1.0780,1.0795\n7700,-0.8,1.0692,1.0785\n7700,-0.7,1.0617,1.0797\n7700,-0.6,1.0542,1.0791\n7700,-0.5,1.0534,1.0801\n7700,-0.4,1.0503,1.0781\n7700,-0.3,1.0506,1.0793\n7700,-0.2,1.0505,1.0799\n7700,-0.1,1.0489,1.0787\n7700,0,1.0503,1.0803\n7700,0.1,1.0493,1.0791\n7700,0.2,1.0503,1.0797\n7700,0.3,1.0496,1.0783\n7700,0.4,1.0523,1.0801\n7700,0.5,1.0526,1.0793\n7700,0.6,1.0540,1.0789\n7700,0.7,1.0625,1.0805\n7700,0.8,1.0716,1.0809\n7700,0.9,1.0784,1.0799\n7700,1,1.0787,1.0787\n7700,1.1,1.0803,1.0803\n7700,1.2,1.0811,1.0811\n7700,1.3,1.0797,1.0797\n7700,1.4,1.0781,1.0781\n7700,1.5,1.0801,1.0801\n7700,1.6,1.0773,1.0773\n7700,1.7,1.0789,1.0789\n7700,1.8,1.0807,1.0807\n7700,1.9,1.0779,1.0779\n7700,2,1.0799,1.0799\n7700,2.1,1.0815,1.0815\n7700,2.2,1.0795,1.0795\n7700,2.3,1.0783,1.0783\n7700,2.4,1.0805,1.0805\n7700,2.5,1.0787,1.0787\n7700,2.6,1.0809,1.0809\n7700,2.7,1.0777,1.0777\n7700,2.8,1.0801,1.0801\n7700,2.9,1.0795,1.0795\n7900,-4.5,1.0641,1.0641\n7900,-4.4,1.0645,1.0645\n7900,-4.3,1.0637,1.0637\n7900,-4.2,1.0643,1.0643\n7900,-4.1,1.0633,1.0633\n7900,-4,1.0639,1.0639\n7900,-3.9,1.0629,1.0629\n7900,-3.8,1.0635,1.0635\n7900,-3.7,1.0641,1.0641\n7900,-3.6,1.0631,1.0631\n7900,-3.5,1.0637,1.0637\n7900,-3.4,1.0627,1.0627\n7900,-3.3,1.0633,1.0633\n7900,-3.2,1.0639,1.0639\n7900,-3.1,1.0629,1.0629\n7900,-3,1.0635,1.0635\n7900,-2.9,1.0625,1.0625\n7900,-2.8,1.0633,1.0633\n7900,-2.7,1.0637,1.0637\n7900,-2.6,1.0627,1.0627\n7900,-2.5,1.0631,1.0631\n7900,-2.4,1.0623,1.0623\n7900,-2.3,1.0629,1.0629\n7900,-2.2,1.0633,1.0633\n7900,-2.1,1.0627,1.0627\n7900,-1.8,1.0635,1.0635\n7900,-1.7,1.0639,1.0639\n7900,-1.6,1.0631,1.0631\n7900,-1.5,1.0637,1.0637\n7900,-1.4,1.0633,1.0633\n7900,-1.3,1.0641,1.0641\n7900,-1.2,1.0629,1.0629\n7900,-1.1,1.0635,1.0635\n7900,-1,1.0639,1.0639\n7900,-0.9,1.0618,1.0633\n7900,-0.8,1.0539,1.0631\n7900,-0.7,1.0458,1.0637\n7900,-0.6,1.0394,1.0641\n7900,-0.5,1.0362,1.0627\n7900,-0.4,1.0358,1.0635\n7900,-0.3,1.0348,1.0633\n7900,-0.2,1.0347,1.0639\n7900,-0.1,1.0332,1.0629\n7900,0,1.0339,1.0637\n7900,0.1,1.0338,1.0635\n7900,0.2,1.0339,1.0631\n7900,0.3,1.0354,1.0639\n7900,0.4,1.0356,1.0633\n7900,0.5,1.0376,1.0641\n7900,0.6,1.0382,1.0629\n7900,0.7,1.0456,1.0635\n7900,0.8,1.0545,1.0637\n7900,0.9,1.0616,1.0631\n7900,1,1.0639,1.0639\n7900,1.1,1.0633,1.0633\n7900,1.2,1.0635,1.0635\n7900,1.3,1.0641,1.0641\n7900,1.4,1.0629,1.0629\n7900,1.5,1.0637,1.0637\n7900,1.6,1.0633,1.0633\n7900,1.7,1.0639,1.0639\n7900,1.8,1.0631,1.0631\n7900,1.9,1.0635,1.0635\n7900,2,1.0637,1.0637\n7900,2.1,1.0627,1.0627\n7900,2.2,1.0633,1.0633\n7900,2.3,1.0641,1.0641\n7900,2.4,1.0635,1.0635\n7900,2.5,1.0631,1.0631\n7900,2.6,1.0639,1.0639\n7900,2.7,1.0637,1.0637\n7900,2.8,1.0643,1.0643\n7900,2.9,1.0645,1.0645\n8100,-4.5,1.0469,1.0469\n8100,-4.4,1.0473,1.0473\n8100,-4.3,1.0479,1.0479\n8100,-4.2,1.0471,1.0471\n8100,-4.1,1.0477,1.0477\n8100,-4,1.0473,1.0473\n8100,-3.9,1.0467,1.0467\n8100,-3.8,1.0475,1.0475\n8100,-3.7,1.0477,1.0477\n8100,-3.6,1.0469,1.0469\n8100,-3.5,1.0473,1.0473\n8100,-3.4,1.0479,1.0479\n8100,-3.3,1.0475,1.0475\n8100,-3.2,1.0471,1.0471\n8100,-3.1,1.0477,1.0477\n8100,-3,1.0473,1.0473\n8100,-2.9,1.0469,1.0469\n8100,-2.8,1.0475,1.0475\n8100,-2.7,1.0479,1.0479\n8100,-2.6,1.0473,1.0473\n8100,-2.5,1.0477,1.0477\n8100,-2.4,1.0481,1.0481\n8100,-2.3,1.0475,1.0475\n8100,-2.2,1.0483,1.0483\n8100,-2.1,1.0479,1.0479\n8100,-1.8,1.0471,1.0471\n8100,-1.7,1.0477,1.0477\n8100,-1.6,1.0473,1.0473\n8100,-1.5,1.0475,1.0475\n8100,-1.4,1.0479,1.0479\n8100,-1.3,1.0469,1.0469\n8100,-1.2,1.0473,1.0473\n8100,-1.1,1.0477,1.0477\n8100,-1,1.0471,1.0471\n8100,-0.9,1.0466,1.0481\n8100,-0.8,1.0383,1.0475\n8100,-0.7,1.0295,1.0473\n8100,-0.6,1.0233,1.0479\n8100,-0.5,1.0220,1.0483\n8100,-0.4,1.0202,1.0477\n8100,-0.3,1.0187,1.0471\n8100,-0.2,1.0185,1.0475\n8100,-0.1,1.0184,1.0479\n8100,0,1.0177,1.0473\n8100,0.1,1.0182,1.0477\n8100,0.2,1.0179,1.0469\n8100,0.3,1.0191,1.0475\n8100,0.4,1.0206,1.0481\n8100,0.5,1.0210,1.0473\n8100,0.6,1.0231,1.0477\n8100,0.7,1.0293,1.0471\n8100,0.8,1.0387,1.0479\n8100,0.9,1.0460,1.0475\n8100,1,1.0473,1.0473\n8100,1.1,1.0477,1.0477\n8100,1.2,1.0469,1.0469\n8100,1.3,1.0475,1.0475\n8100,1.4,1.0479,1.0479\n8100,1.5,1.0473,1.0473\n8100,1.6,1.0471,1.0471\n8100,1.7,1.0477,1.0477\n8100,1.8,1.0473,1.0473\n8100,1.9,1.0479,1.0479\n8100,2,1.0475,1.0475\n8100,2.1,1.0471,1.0471\n8100,2.2,1.0477,1.0477\n8100,2.3,1.0481,1.0481\n8100,2.4,1.0475,1.0475\n8100,2.5,1.0479,1.0479\n8100,2.6,1.0477,1.0477\n8100,2.7,1.0483,1.0483\n8100,2.8,1.0485,1.0485\n8100,2.9,1.0481,1.0481\n8300,-4.5,1.0316,1.0316\n8300,-4.4,1.0322,1.0322\n8300,-4.3,1.0313,1.0313\n8300,-4.2,1.0319,1.0319\n8300,-4.1,1.0310,1.0310\n8300,-4,1.0325,1.0325\n8300,-3.9,1.0316,1.0316\n8300,-3.8,1.0322,1.0322\n8300,-3.7,1.0313,1.0313\n8300,-3.6,1.0307,1.0307\n8300,-3.5,1.0319,1.0319\n8300,-3.4,1.0316,1.0316\n8300,-3.3,1.0310,1.0310\n8300,-3.2,1.0322,1.0322\n8300,-3.1,1.0313,1.0313\n8300,-3,1.0319,1.0319\n8300,-2.9,1.0307,1.0307\n8300,-2.8,1.0316,1.0316\n8300,-2.7,1.0313,1.0313\n8300,-2.6,1.0322,1.0322\n8300,-2.5,1.0310,1.0310\n8300,-2.4,1.0319,1.0319\n8300,-2.3,1.0313,1.0313\n8300,-2.2,1.0307,1.0307\n8300,-2.1,1.0316,1.0316\n8300,-1.8,1.0319,1.0319\n8300,-1.7,1.0313,1.0313\n8300,-1.6,1.0322,1.0322\n8300,-1.5,1.0310,1.0310\n8300,-1.4,1.0316,1.0316\n8300,-1.3,1.0319,1.0319\n8300,-1.2,1.0307,1.0307\n8300,-1.1,1.0313,1.0313\n8300,-1,1.0322,1.0322\n8300,-0.9,1.0301,1.0316\n8300,-0.8,1.0219,1.0310\n8300,-0.7,1.0143,1.0319\n8300,-0.6,1.0069,1.0313\n8300,-0.5,1.0042,1.0304\n8300,-0.4,1.0043,1.0316\n8300,-0.3,1.0037,1.0319\n8300,-0.2,1.0025,1.0313\n8300,-0.1,1.0029,1.0322\n8300,0,1.0016,1.0310\n8300,0.1,1.0023,1.0316\n8300,0.2,1.0025,1.0313\n8300,0.3,1.0037,1.0319\n8300,0.4,1.0034,1.0307\n8300,0.5,1.0054,1.0316\n8300,0.6,1.0078,1.0322\n8300,0.7,1.0137,1.0313\n8300,0.8,1.0219,1.0310\n8300,0.9,1.0304,1.0319\n8300,1,1.0316,1.0316\n8300,1.1,1.0307,1.0307\n8300,1.2,1.0313,1.0313\n8300,1.3,1.0322,1.0322\n8300,1.4,1.0316,1.0316\n8300,1.5,1.0313,1.0313\n8300,1.6,1.0310,1.0310\n8300,1.7,1.0319,1.0319\n8300,1.8,1.0313,1.0313\n8300,1.9,1.0316,1.0316\n8300,2,1.0307,1.0307\n8300,2.1,1.0319,1.0319\n8300,2.2,1.0313,1.0313\n8300,2.3,1.0322,1.0322\n8300,2.4,1.0316,1.0316\n8300,2.5,1.0310,1.0310\n8300,2.6,1.0319,1.0319\n8300,2.7,1.0313,1.0313\n8300,2.8,1.0316,1.0316\n8300,2.9,1.0322,1.0322\n8500,-4.5,1.0147,1.0147\n8500,-4.4,1.0151,1.0151\n8500,-4.3,1.0157,1.0157\n8500,-4.2,1.0153,1.0153\n8500,-4.1,1.0159,1.0159\n8500,-4,1.0155,1.0155\n8500,-3.9,1.0161,1.0161\n8500,-3.8,1.0157,1.0157\n8500,-3.7,1.0153,1.0153\n8500,-3.6,1.0159,1.0159\n8500,-3.5,1.0149,1.0149\n8500,-3.4,1.0155,1.0155\n8500,-3.3,1.0145,1.0145\n8500,-3.2,1.0153,1.0153\n8500,-3.1,1.0157,1.0157\n8500,-3,1.0151,1.0151\n8500,-2.9,1.0159,1.0159\n8500,-2.8,1.0163,1.0163\n8500,-2.7,1.0155,1.0155\n8500,-2.6,1.0149,1.0149\n8500,-2.5,1.0153,1.0153\n8500,-2.4,1.0147,1.0147\n8500,-2.3,1.0157,1.0157\n8500,-2.2,1.0153,1.0153\n8500,-2.1,1.0155,1.0155\n8500,-1.8,1.0149,1.0149\n8500,-1.7,1.0155,1.0155\n8500,-1.6,1.0159,1.0159\n8500,-1.5,1.0153,1.0153\n8500,-1.4,1.0157,1.0157\n8500,-1.3,1.0151,1.0151\n8500,-1.2,1.0155,1.0155\n8500,-1.1,1.0161,1.0161\n8500,-1,1.0157,1.0157\n8500,-0.9,1.0138,1.0153\n8500,-0.8,1.0058,1.0149\n8500,-0.7,0.9984,1.0159\n8500,-0.6,0.9913,1.0155\n8500,-0.5,0.9891,1.0151\n8500,-0.4,0.9886,1.0157\n8500,-0.3,0.9873,1.0153\n8500,-0.2,0.9875,1.0161\n8500,-0.1,0.9858,1.0149\n8500,0,0.9863,1.0155\n8500,0.1,0.9868,1.0159\n8500,0.2,0.9867,1.0153\n8500,0.3,0.9877,1.0157\n8500,0.4,0.9880,1.0151\n8500,0.5,0.9895,1.0155\n8500,0.6,0.9911,1.0153\n8500,0.7,0.9984,1.0159\n8500,0.8,1.0058,1.0149\n8500,0.9,1.0142,1.0157\n8500,1,1.0153,1.0153\n8500,1.1,1.0155,1.0155\n8500,1.2,1.0161,1.0161\n8500,1.3,1.0151,1.0151\n8500,1.4,1.0153,1.0153\n8500,1.5,1.0157,1.0157\n8500,1.6,1.0163,1.0163\n8500,1.7,1.0159,1.0159\n8500,1.8,1.0155,1.0155\n8500,1.9,1.0147,1.0147\n8500,2,1.0157,1.0157\n8500,2.1,1.0153,1.0153\n8500,2.2,1.0165,1.0165\n8500,2.3,1.0159,1.0159\n8500,2.4,1.0151,1.0151\n8500,2.5,1.0155,1.0155\n8500,2.6,1.0149,1.0149\n8500,2.7,1.0157,1.0157\n8500,2.8,1.0153,1.0153\n8500,2.9,1.0155,1.0155\n8700,-4.5,0.9997,0.9997\n8700,-4.4,0.9993,0.9993\n8700,-4.3,0.9999,0.9999\n8700,-4.2,0.9991,0.9991\n8700,-4.1,0.9995,0.9995\n8700,-4,0.9987,0.9987\n8700,-3.9,0.9993,0.9993\n8700,-3.8,0.9997,0.9997\n8700,-3.7,0.9989,0.9989\n8700,-3.6,0.9995,0.9995\n8700,-3.5,0.9999,0.9999\n8700,-3.4,0.9991,0.9991\n8700,-3.3,0.9993,0.9993\n8700,-3.2,0.9987,0.9987\n8700,-3.1,0.9997,0.9997\n8700,-3,0.9995,0.9995\n8700,-2.9,0.9989,0.9989\n8700,-2.8,0.9993,0.9993\n8700,-2.7,0.9985,0.9985\n8700,-2.6,0.9995,0.9995\n8700,-2.5,0.9989,0.9989\n8700,-2.4,0.9999,0.9999\n8700,-2.3,0.9993,0.9993\n8700,-2.2,0.9991,0.9991\n8700,-2.1,0.9997,0.9997\n8700,-1.8,0.9995,0.9995\n8700,-1.7,0.9989,0.9989\n8700,-1.6,0.9993,0.9993\n8700,-1.5,0.9997,0.9997\n8700,-1.4,0.9991,0.9991\n8700,-1.3,0.9995,0.9995\n8700,-1.2,0.9987,0.9987\n8700,-1.1,0.9993,0.9993\n8700,-1,0.9997,0.9997\n8700,-0.9,0.9980,0.9995\n8700,-0.8,0.9901,0.9991\n8700,-0.7,0.9825,0.9999\n8700,-0.6,0.9752,0.9993\n8700,-0.5,0.9731,0.9989\n8700,-0.4,0.9726,0.9995\n8700,-0.3,0.9719,0.9997\n8700,-0.2,0.9707,0.9991\n8700,-0.1,0.9704,0.9993\n8700,0,0.9709,0.9999\n8700,0.1,0.9706,0.9995\n8700,0.2,0.9705,0.9989\n8700,0.3,0.9715,0.9993\n8700,0.4,0.9726,0.9995\n8700,0.5,0.9733,0.9991\n8700,0.6,0.9756,0.9997\n8700,0.7,0.9819,0.9993\n8700,0.8,0.9897,0.9987\n8700,0.9,0.9980,0.9995\n8700,1,0.9997,0.9997\n8700,1.1,0.9991,0.9991\n8700,1.2,0.9993,0.9993\n8700,1.3,0.9995,0.9995\n8700,1.4,0.9989,0.9989\n8700,1.5,0.9985,0.9985\n8700,1.6,0.9993,0.9993\n8700,1.7,0.9989,0.9989\n8700,1.8,0.9995,0.9995\n8700,1.9,0.9991,0.9991\n8700,2,0.9997,0.9997\n8700,2.1,1.0003,1.0003\n8700,2.2,0.9999,0.9999\n8700,2.3,0.9993,0.9993\n8700,2.4,0.9987,0.9987\n8700,2.5,0.9995,0.9995\n8700,2.6,0.9989,0.9989\n8700,2.7,0.9993,0.9993\n8700,2.8,1.0001,1.0001\n8700,2.9,0.9997,0.9997"
  },
  "hconcat": [
    {
      "width": 452,
      "height": 1388,
      "title": {"text": "Light Curves", "fontSize": 43, "offset": 4},
      "encoding": {
        "x": {
          "field": "t", "type": "quantitative",
          "scale": {"domain": [-4.88, 4], "nice": false, "zero": false},
          "axis": {"values": [-2, -1, 0, 1, 2, 3, 4], "format": "d", "labelExpr": "datum.value >= 0 && datum.value % 2 == 0 ? datum.label : ''", "title": null, "tickSize": 8, "labelFontSize": 28, "labelPadding": 3, "labelFlush": false, "labelOverlap": false}
        }
      },
      "layer": [
        {
          "data": {
            "format": {"type": "csv", "parse": {"w": "string", "t": "number", "m": "number"}},
            "values": "w,t,m\n4900,-4.5,1.3033\n4900,-0.92,1.3033\n4900,-0.8,1.2931\n4900,-0.7,1.2836\n4900,-0.6,1.2761\n4900,-0.4,1.2729\n4900,-0.2,1.2712\n4900,0,1.2705\n4900,0.2,1.2712\n4900,0.4,1.2729\n4900,0.6,1.2761\n4900,0.7,1.2836\n4900,0.8,1.2931\n4900,0.92,1.3033\n4900,2.9,1.3033\n5100,-4.5,1.2873\n5100,-0.92,1.2873\n5100,-0.8,1.2772\n5100,-0.7,1.2677\n5100,-0.6,1.2602\n5100,-0.4,1.2570\n5100,-0.2,1.2554\n5100,0,1.2547\n5100,0.2,1.2554\n5100,0.4,1.2570\n5100,0.6,1.2602\n5100,0.7,1.2677\n5100,0.8,1.2772\n5100,0.92,1.2873\n5100,2.9,1.2873\n5300,-4.5,1.2713\n5300,-0.92,1.2713\n5300,-0.8,1.2613\n5300,-0.7,1.2519\n5300,-0.6,1.2444\n5300,-0.4,1.2412\n5300,-0.2,1.2395\n5300,0,1.2389\n5300,0.2,1.2395\n5300,0.4,1.2412\n5300,0.6,1.2444\n5300,0.7,1.2519\n5300,0.8,1.2613\n5300,0.92,1.2713\n5300,2.9,1.2713\n5500,-4.5,1.2553\n5500,-0.92,1.2553\n5500,-0.8,1.2453\n5500,-0.7,1.2360\n5500,-0.6,1.2286\n5500,-0.4,1.2254\n5500,-0.2,1.2237\n5500,0,1.2231\n5500,0.2,1.2237\n5500,0.4,1.2254\n5500,0.6,1.2286\n5500,0.7,1.2360\n5500,0.8,1.2453\n5500,0.92,1.2553\n5500,2.9,1.2553\n5700,-4.5,1.2393\n5700,-0.92,1.2393\n5700,-0.8,1.2294\n5700,-0.7,1.2201\n5700,-0.6,1.2127\n5700,-0.4,1.2096\n5700,-0.2,1.2079\n5700,0,1.2073\n5700,0.2,1.2079\n5700,0.4,1.2096\n5700,0.6,1.2127\n5700,0.7,1.2201\n5700,0.8,1.2294\n5700,0.92,1.2393\n5700,2.9,1.2393\n5900,-4.5,1.2233\n5900,-0.92,1.2233\n5900,-0.8,1.2134\n5900,-0.7,1.2042\n5900,-0.6,1.1969\n5900,-0.4,1.1938\n5900,-0.2,1.1921\n5900,0,1.1915\n5900,0.2,1.1921\n5900,0.4,1.1938\n5900,0.6,1.1969\n5900,0.7,1.2042\n5900,0.8,1.2134\n5900,0.92,1.2233\n5900,2.9,1.2233\n6100,-4.5,1.2073\n6100,-0.92,1.2073\n6100,-0.8,1.1975\n6100,-0.7,1.1883\n6100,-0.6,1.1811\n6100,-0.4,1.1780\n6100,-0.2,1.1763\n6100,0,1.1757\n6100,0.2,1.1763\n6100,0.4,1.1780\n6100,0.6,1.1811\n6100,0.7,1.1883\n6100,0.8,1.1975\n6100,0.92,1.2073\n6100,2.9,1.2073\n6300,-4.5,1.1913\n6300,-0.92,1.1913\n6300,-0.8,1.1816\n6300,-0.7,1.1725\n6300,-0.6,1.1652\n6300,-0.4,1.1622\n6300,-0.2,1.1605\n6300,0,1.1599\n6300,0.2,1.1605\n6300,0.4,1.1622\n6300,0.6,1.1652\n6300,0.7,1.1725\n6300,0.8,1.1816\n6300,0.92,1.1913\n6300,2.9,1.1913\n6500,-4.5,1.1753\n6500,-0.92,1.1753\n6500,-0.8,1.1656\n6500,-0.7,1.1566\n6500,-0.6,1.1494\n6500,-0.4,1.1463\n6500,-0.2,1.1447\n6500,0,1.1441\n6500,0.2,1.1447\n6500,0.4,1.1463\n6500,0.6,1.1494\n6500,0.7,1.1566\n6500,0.8,1.1656\n6500,0.92,1.1753\n6500,2.9,1.1753\n6700,-4.5,1.1593\n6700,-0.92,1.1593\n6700,-0.8,1.1497\n6700,-0.7,1.1407\n6700,-0.6,1.1336\n6700,-0.4,1.1305\n6700,-0.2,1.1289\n6700,0,1.1283\n6700,0.2,1.1289\n6700,0.4,1.1305\n6700,0.6,1.1336\n6700,0.7,1.1407\n6700,0.8,1.1497\n6700,0.92,1.1593\n6700,2.9,1.1593\n6900,-4.5,1.1433\n6900,-0.92,1.1433\n6900,-0.8,1.1338\n6900,-0.7,1.1248\n6900,-0.6,1.1177\n6900,-0.4,1.1147\n6900,-0.2,1.1131\n6900,0,1.1125\n6900,0.2,1.1131\n6900,0.4,1.1147\n6900,0.6,1.1177\n6900,0.7,1.1248\n6900,0.8,1.1338\n6900,0.92,1.1433\n6900,2.9,1.1433\n7100,-4.5,1.1273\n7100,-0.92,1.1273\n7100,-0.8,1.1178\n7100,-0.7,1.1089\n7100,-0.6,1.1019\n7100,-0.4,1.0989\n7100,-0.2,1.0973\n7100,0,1.0967\n7100,0.2,1.0973\n7100,0.4,1.0989\n7100,0.6,1.1019\n7100,0.7,1.1089\n7100,0.8,1.1178\n7100,0.92,1.1273\n7100,2.9,1.1273\n7300,-4.5,1.1113\n7300,-0.92,1.1113\n7300,-0.8,1.1019\n7300,-0.7,1.0931\n7300,-0.6,1.0861\n7300,-0.4,1.0831\n7300,-0.2,1.0815\n7300,0,1.0809\n7300,0.2,1.0815\n7300,0.4,1.0831\n7300,0.6,1.0861\n7300,0.7,1.0931\n7300,0.8,1.1019\n7300,0.92,1.1113\n7300,2.9,1.1113\n7500,-4.5,1.0953\n7500,-0.92,1.0953\n7500,-0.8,1.0859\n7500,-0.7,1.0772\n7500,-0.6,1.0702\n7500,-0.4,1.0673\n7500,-0.2,1.0657\n7500,0,1.0651\n7500,0.2,1.0657\n7500,0.4,1.0673\n7500,0.6,1.0702\n7500,0.7,1.0772\n7500,0.8,1.0859\n7500,0.92,1.0953\n7500,2.9,1.0953\n7700,-4.5,1.0793\n7700,-0.92,1.0793\n7700,-0.8,1.0700\n7700,-0.7,1.0613\n7700,-0.6,1.0544\n7700,-0.4,1.0515\n7700,-0.2,1.0499\n7700,0,1.0493\n7700,0.2,1.0499\n7700,0.4,1.0515\n7700,0.6,1.0544\n7700,0.7,1.0613\n7700,0.8,1.0700\n7700,0.92,1.0793\n7700,2.9,1.0793\n7900,-4.5,1.0633\n7900,-0.92,1.0633\n7900,-0.8,1.0541\n7900,-0.7,1.0454\n7900,-0.6,1.0386\n7900,-0.4,1.0356\n7900,-0.2,1.0341\n7900,0,1.0335\n7900,0.2,1.0341\n7900,0.4,1.0356\n7900,0.6,1.0386\n7900,0.7,1.0454\n7900,0.8,1.0541\n7900,0.92,1.0633\n7900,2.9,1.0633\n8100,-4.5,1.0473\n8100,-0.92,1.0473\n8100,-0.8,1.0381\n8100,-0.7,1.0295\n8100,-0.6,1.0227\n8100,-0.4,1.0198\n8100,-0.2,1.0183\n8100,0,1.0177\n8100,0.2,1.0183\n8100,0.4,1.0198\n8100,0.6,1.0227\n8100,0.7,1.0295\n8100,0.8,1.0381\n8100,0.92,1.0473\n8100,2.9,1.0473\n8300,-4.5,1.0313\n8300,-0.92,1.0313\n8300,-0.8,1.0222\n8300,-0.7,1.0137\n8300,-0.6,1.0069\n8300,-0.4,1.0040\n8300,-0.2,1.0025\n8300,0,1.0019\n8300,0.2,1.0025\n8300,0.4,1.0040\n8300,0.6,1.0069\n8300,0.7,1.0137\n8300,0.8,1.0222\n8300,0.92,1.0313\n8300,2.9,1.0313\n8500,-4.5,1.0153\n8500,-0.92,1.0153\n8500,-0.8,1.0062\n8500,-0.7,0.9978\n8500,-0.6,0.9911\n8500,-0.4,0.9882\n8500,-0.2,0.9867\n8500,0,0.9861\n8500,0.2,0.9867\n8500,0.4,0.9882\n8500,0.6,0.9911\n8500,0.7,0.9978\n8500,0.8,1.0062\n8500,0.92,1.0153\n8500,2.9,1.0153\n8700,-4.5,0.9993\n8700,-0.92,0.9993\n8700,-0.8,0.9903\n8700,-0.7,0.9819\n8700,-0.6,0.9752\n8700,-0.4,0.9724\n8700,-0.2,0.9709\n8700,0,0.9703\n8700,0.2,0.9709\n8700,0.4,0.9724\n8700,0.6,0.9752\n8700,0.7,0.9819\n8700,0.8,0.9903\n8700,0.92,0.9993\n8700,2.9,0.9993"
          },
          "mark": {"type": "line", "interpolate": "monotone", "color": "#808080", "strokeWidth": 3, "opacity": 0.85},
          "encoding": {
            "y": {
              "field": "m", "type": "quantitative",
              "scale": {"domain": [0.9593, 1.3294], "nice": false, "zero": false},
              "axis": {"values": [1, 1.05, 1.1, 1.15, 1.2, 1.25, 1.3], "format": ".2f", "title": "Relative Flux + shift", "titleFontSize": 55, "labelFontSize": 37, "tickSize": 7, "labelPadding": 12, "titlePadding": 14}
            },
            "detail": {"field": "w", "type": "nominal"}
          }
        },
        {
          "mark": {"type": "circle", "size": 82, "stroke": "black", "strokeWidth": 0.8, "opacity": 1},
          "encoding": {
            "y": {
              "field": "f", "type": "quantitative",
              "scale": {"domain": [0.9593, 1.3294], "nice": false, "zero": false},
              "axis": {"values": [1, 1.05, 1.1, 1.15, 1.2, 1.25, 1.3], "format": ".2f", "title": "Relative Flux + shift", "titleFontSize": 55, "labelFontSize": 37, "tickSize": 7, "labelPadding": 12, "titlePadding": 14}
            },
            "color": {
              "field": "w", "type": "nominal", "legend": null,
              "scale": {
                "domain": ["4900", "5100", "5300", "5500", "5700", "5900", "6100", "6300", "6500", "6700", "6900", "7100", "7300", "7500", "7700", "7900", "8100", "8300", "8500", "8700"],
                "range": ["#253494", "#23479e", "#225ea8", "#1f80b8", "#2498c1", "#41b6c4", "#73c8bd", "#a3dbb7", "#c7e9b4", "#e3f4bf", "#fbfdd6", "#fff9cf", "#fff3be", "#fee597", "#fed06b", "#feb64a", "#fd9a2d", "#f6821f", "#e66a12", "#cc4c02"]
              }
            }
          }
        }
      ]
    },
    {
      "width": 452,
      "height": 1388,
      "title": {"text": "Residuals", "fontSize": 43, "offset": 4},
      "mark": {"type": "circle", "size": 82, "stroke": "black", "strokeWidth": 0.8, "opacity": 1},
      "encoding": {
        "x": {
          "field": "t", "type": "quantitative",
          "scale": {"domain": [-4.88, 4], "nice": false, "zero": false},
          "axis": {"values": [-2, -1, 0, 1, 2, 3, 4], "format": "d", "labelExpr": "datum.value >= 0 && datum.value % 2 == 0 ? datum.label : ''", "title": null, "tickSize": 8, "labelFontSize": 28, "labelPadding": 3, "labelFlush": false, "labelOverlap": false}
        },
        "y": {
          "field": "r", "type": "quantitative",
          "scale": {"domain": [0.9593, 1.3294], "nice": false, "zero": false},
          "axis": {"orient": "right", "values": [0.9993, 1.0153, 1.0313, 1.0473, 1.0633, 1.0793, 1.0953, 1.1113, 1.1273, 1.1433, 1.1593, 1.1753, 1.1913, 1.2073, 1.2233, 1.2393, 1.2553, 1.2713, 1.2873, 1.3033], "labelExpr": "format(8700 - 200 * round((datum.value - 0.9993) / 0.016), 'd') + 'Å'", "ticks": false, "labelPadding": 8, "labelFontSize": 32, "labelOffset": 3, "title": null, "labelOverlap": false, "labelBound": false}
        },
        "color": {
          "field": "w", "type": "nominal", "legend": null,
          "scale": {
            "domain": ["4900", "5100", "5300", "5500", "5700", "5900", "6100", "6300", "6500", "6700", "6900", "7100", "7300", "7500", "7700", "7900", "8100", "8300", "8500", "8700"],
            "range": ["#253494", "#23479e", "#225ea8", "#1f80b8", "#2498c1", "#41b6c4", "#73c8bd", "#a3dbb7", "#c7e9b4", "#e3f4bf", "#fbfdd6", "#fff9cf", "#fff3be", "#fee597", "#fed06b", "#feb64a", "#fd9a2d", "#f6821f", "#e66a12", "#cc4c02"]
          }
        }
      }
    }
  ],
  "config": {
    "font": "DejaVu Sans",
    "view": {"stroke": "black", "strokeWidth": 1.4},
    "axis": {"grid": false, "domain": false, "labelFont": "DejaVu Sans", "titleFont": "DejaVu Sans", "labelColor": "black", "titleColor": "black", "tickColor": "black", "tickWidth": 1.2, "titleFontWeight": "normal"},
    "title": {"font": "DejaVu Sans", "fontWeight": "normal", "color": "black"}
  }
}
